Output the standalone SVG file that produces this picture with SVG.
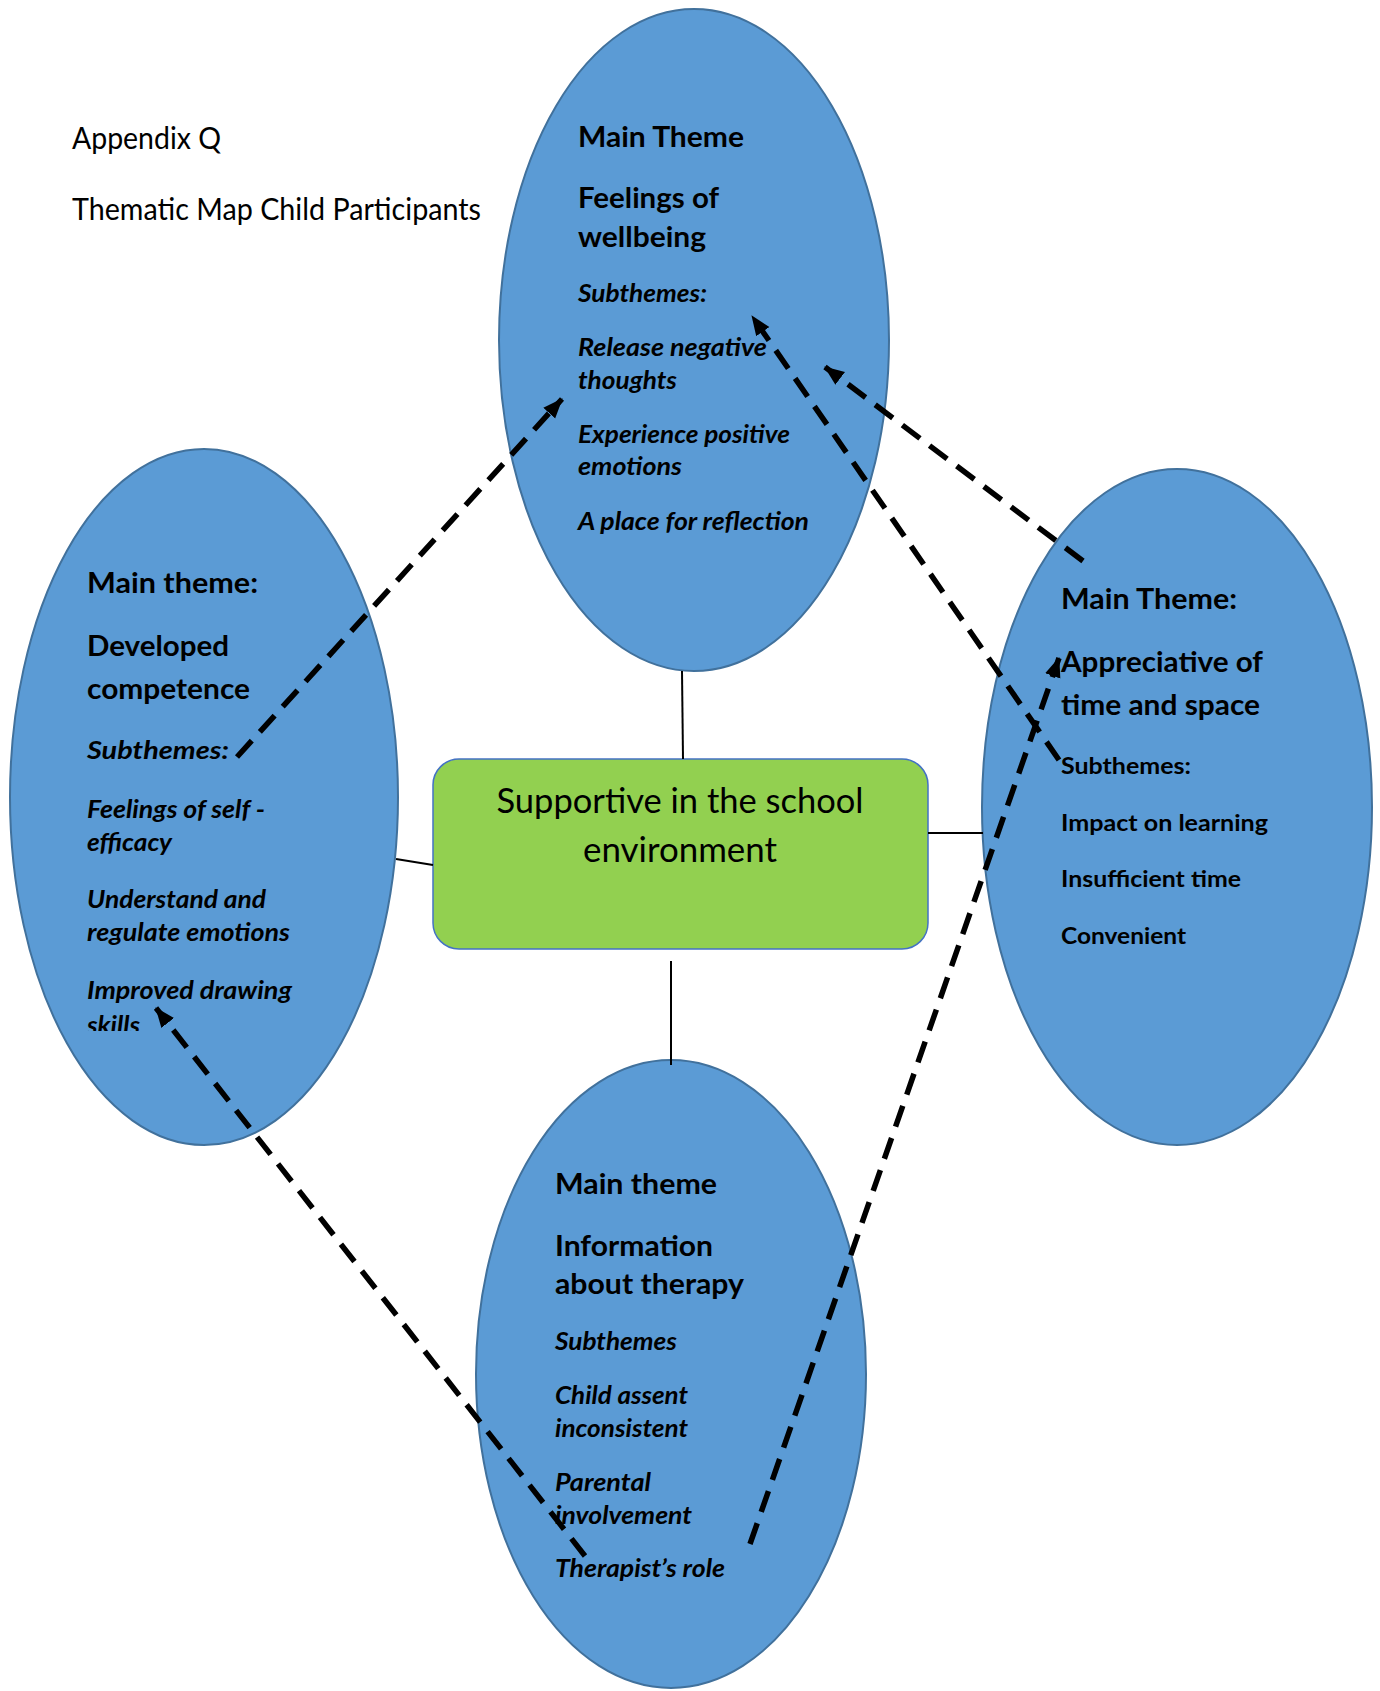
<svg xmlns="http://www.w3.org/2000/svg" width="1380" height="1691" viewBox="0 0 1380 1691">
<style>
  .theme { fill: #5B9BD5; stroke: #41719C; stroke-width: 2; }
  .core { fill: #92D050; stroke: #4472C4; stroke-width: 1.5; }
  .link { stroke: #000; stroke-width: 2; fill: none; }
  .dash { stroke: #000; stroke-width: 5.5; fill: none; stroke-dasharray: 22 12; marker-end: url(#ah); }
  text { font-family: Lato, "Open Sans", "Liberation Sans", sans-serif; fill: #000; }
  .plain { font-size: 30px; }
  .center { font-size: 34px; text-anchor: middle; }
  .h { font-size: 29px; font-weight: bold; }
  .si { font-size: 25px; font-weight: bold; font-style: italic; }
  .sb { font-size: 23px; font-weight: bold; }
</style>
<defs>
  <marker id="ah" markerUnits="userSpaceOnUse" markerWidth="22" markerHeight="18" refX="19" refY="8" orient="auto">
    <path d="M0,0 L20,8 L0,16 z" fill="#000"/>
  </marker>
  <clipPath id="clipSkills"><rect x="0" y="0" width="1380" height="1031"/></clipPath>
</defs>
<rect width="1380" height="1691" fill="#fff"/>

<g id="header">
  <text class="plain" x="72" y="149" textLength="149" lengthAdjust="spacingAndGlyphs">Appendix Q</text>
  <text class="plain" x="72" y="220" textLength="409" lengthAdjust="spacingAndGlyphs">Thematic Map Child Participants</text>
</g>

<g id="node-wellbeing">
  <ellipse class="theme" cx="694" cy="340" rx="195" ry="331"/>
</g>
<g id="node-competence">
  <ellipse class="theme" cx="204" cy="797" rx="194" ry="348"/>
</g>
<g id="node-time-space">
  <ellipse class="theme" cx="1177" cy="807" rx="195" ry="338"/>
</g>
<g id="node-information">
  <ellipse class="theme" cx="671" cy="1374" rx="195" ry="314"/>
</g>
<g id="node-core">
  <rect class="core" x="433" y="759" width="495" height="190" rx="26" ry="26"/>
</g>

<g id="connectors">
  <line class="link" x1="682" y1="671" x2="683" y2="759"/>
  <line class="link" x1="396" y1="859" x2="433" y2="865"/>
  <line class="link" x1="928" y1="833" x2="983" y2="833"/>
  <line class="link" x1="671" y1="961" x2="671" y2="1065"/>
</g>

<g id="text-core">
  <text class="center" x="680" y="813" textLength="367" lengthAdjust="spacingAndGlyphs">Supportive in the school</text>
  <text class="center" x="680" y="862" textLength="194" lengthAdjust="spacingAndGlyphs">environment</text>
</g>

<g id="text-wellbeing">
  <text class="h" x="578" y="147" textLength="166" lengthAdjust="spacingAndGlyphs">Main Theme</text>
  <text class="h" x="578" y="208" textLength="141" lengthAdjust="spacingAndGlyphs">Feelings of</text>
  <text class="h" x="578" y="247" textLength="128" lengthAdjust="spacingAndGlyphs">wellbeing</text>
  <text class="si" x="578" y="302" textLength="129" lengthAdjust="spacingAndGlyphs">Subthemes:</text>
  <text class="si" x="578" y="356" textLength="189" lengthAdjust="spacingAndGlyphs">Release negative</text>
  <text class="si" x="578" y="389" textLength="99" lengthAdjust="spacingAndGlyphs">thoughts</text>
  <text class="si" x="578" y="443" textLength="212" lengthAdjust="spacingAndGlyphs">Experience positive</text>
  <text class="si" x="578" y="475" textLength="104" lengthAdjust="spacingAndGlyphs">emotions</text>
  <text class="si" x="578" y="530" textLength="231" lengthAdjust="spacingAndGlyphs">A place for reflection</text>
</g>

<g id="text-competence">
  <text class="h" x="87" y="593" textLength="171" lengthAdjust="spacingAndGlyphs">Main theme:</text>
  <text class="h" x="87" y="656" textLength="142" lengthAdjust="spacingAndGlyphs">Developed</text>
  <text class="h" x="87" y="699" textLength="163" lengthAdjust="spacingAndGlyphs">competence</text>
  <text class="si" x="87" y="759" textLength="142" lengthAdjust="spacingAndGlyphs">Subthemes:</text>
  <text class="si" x="87" y="818" textLength="178" lengthAdjust="spacingAndGlyphs">Feelings of self -</text>
  <text class="si" x="87" y="851" textLength="85" lengthAdjust="spacingAndGlyphs">efficacy</text>
  <text class="si" x="87" y="908" textLength="179" lengthAdjust="spacingAndGlyphs">Understand and</text>
  <text class="si" x="87" y="941" textLength="203" lengthAdjust="spacingAndGlyphs">regulate emotions</text>
  <text class="si" x="87" y="999" textLength="205" lengthAdjust="spacingAndGlyphs">Improved drawing</text>
  <text class="si" x="87" y="1034" textLength="53" lengthAdjust="spacingAndGlyphs" clip-path="url(#clipSkills)">skills</text>
</g>

<g id="text-time-space">
  <text class="h" x="1061" y="609" textLength="176" lengthAdjust="spacingAndGlyphs">Main Theme:</text>
  <text class="h" x="1061" y="672" textLength="202" lengthAdjust="spacingAndGlyphs">Appreciative of</text>
  <text class="h" x="1061" y="715" textLength="199" lengthAdjust="spacingAndGlyphs">time and space</text>
  <text class="sb" x="1061" y="774" textLength="130" lengthAdjust="spacingAndGlyphs">Subthemes:</text>
  <text class="sb" x="1061" y="831" textLength="207" lengthAdjust="spacingAndGlyphs">Impact on learning</text>
  <text class="sb" x="1061" y="887" textLength="180" lengthAdjust="spacingAndGlyphs">Insufficient time</text>
  <text class="sb" x="1061" y="944" textLength="125" lengthAdjust="spacingAndGlyphs">Convenient</text>
</g>

<g id="text-information">
  <text class="h" x="555" y="1194" textLength="162" lengthAdjust="spacingAndGlyphs">Main theme</text>
  <text class="h" x="555" y="1256" textLength="158" lengthAdjust="spacingAndGlyphs">Information</text>
  <text class="h" x="555" y="1294" textLength="189" lengthAdjust="spacingAndGlyphs">about therapy</text>
  <text class="si" x="555" y="1350" textLength="122" lengthAdjust="spacingAndGlyphs">Subthemes</text>
  <text class="si" x="555" y="1404" textLength="133" lengthAdjust="spacingAndGlyphs">Child assent</text>
  <text class="si" x="555" y="1437" textLength="133" lengthAdjust="spacingAndGlyphs">inconsistent</text>
  <text class="si" x="555" y="1491" textLength="96" lengthAdjust="spacingAndGlyphs">Parental</text>
  <text class="si" x="555" y="1524" textLength="137" lengthAdjust="spacingAndGlyphs">involvement</text>
  <text class="si" x="555" y="1577" textLength="170" lengthAdjust="spacingAndGlyphs">Therapist’s role</text>
</g>

<g id="dashed-connectors">
  <line class="dash" x1="237" y1="757" x2="562" y2="399"/>
  <line class="dash" x1="1083" y1="561" x2="825" y2="367"/>
  <line class="dash" x1="1059" y1="760" x2="752" y2="316"/>
  <line class="dash" x1="750" y1="1544" x2="1059" y2="658"/>
  <line class="dash" x1="585" y1="1556" x2="156" y2="1008"/>
</g>
</svg>
